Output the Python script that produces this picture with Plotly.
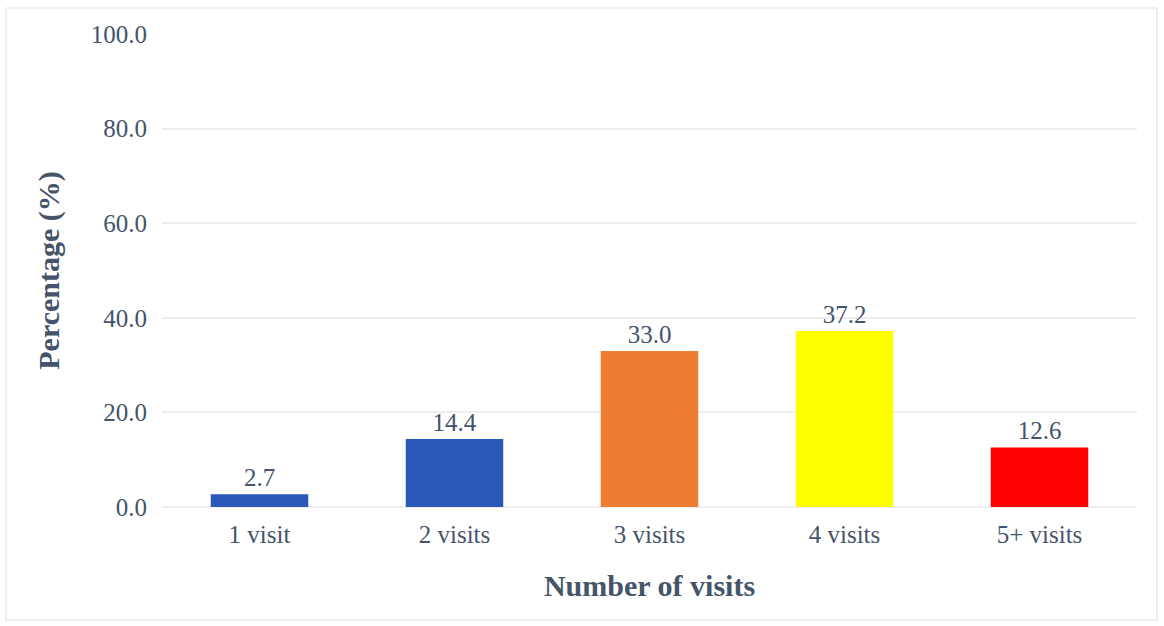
import plotly.graph_objects as go

categories = ["1 visit", "2 visits", "3 visits", "4 visits", "5+ visits"]
values = [2.7, 14.4, 33.0, 37.2, 12.6]
colors = ["#2A58B8", "#2A58B8", "#ED7D31", "#FFFF00", "#FF0000"]
y_ticks = [0, 20, 40, 60, 80, 100]

FONT = "Liberation Serif"
TXT = "#44546A"

fig = go.Figure()
fig.add_trace(go.Bar(
    x=categories, y=values, marker=dict(color=colors, line=dict(width=0)),
    width=0.5,
    text=[f"{v:.1f}" for v in values], textposition="outside",
    textfont=dict(family=FONT, size=25, color=TXT), cliponaxis=False,
))
fig.update_layout(
    width=1164, height=626,
    margin=dict(l=162, r=27, t=34, b=119),
    paper_bgcolor="white", plot_bgcolor="white",
    showlegend=False,
    font=dict(family=FONT, color=TXT),
    xaxis=dict(
        title=dict(text="<b>Number of visits</b>", font=dict(family=FONT, size=30, color=TXT), standoff=27),
        tickfont=dict(family=FONT, size=25, color=TXT), showgrid=False, ticks="",
        showline=False, ticklabelstandoff=10,
    ),
    yaxis=dict(
        title=dict(text="<b>Percentage (%)</b>", font=dict(family=FONT, size=30, color=TXT), standoff=22),
        range=[0, 100], tickvals=y_ticks, ticktext=[f"{t:.1f}" for t in y_ticks],
        tickfont=dict(family=FONT, size=25, color=TXT),
        showgrid=True, gridcolor="#EDEEF1", gridwidth=2, zeroline=True, zerolinecolor="#EDEEF1", zerolinewidth=2,
        ticks="", ticklabelstandoff=14,
    ),
    shapes=[dict(type="rect", xref="paper", yref="paper", x0=-0.16, x1=1.0205, y0=-0.239, y1=1.055,
                 line=dict(color="#E0E0E0", width=1), layer="below")],
)
fig.write_html("out.html")
